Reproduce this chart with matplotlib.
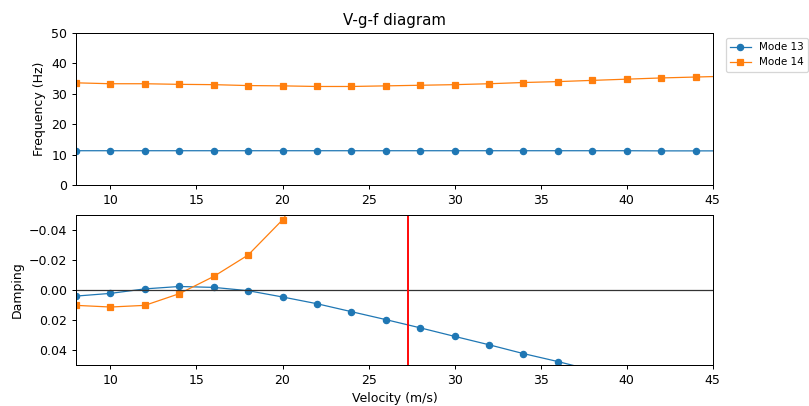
import matplotlib
matplotlib.use("Agg")
import matplotlib.pyplot as plt
import numpy as np

velocity = [8, 10, 12, 14, 16, 18, 20, 22, 24, 26, 28, 30, 32, 34, 36, 38, 40, 42, 44, 46]
freq_mode13 = [11.3, 11.3, 11.3, 11.3, 11.3, 11.3, 11.3, 11.3, 11.3, 11.3,
               11.3, 11.3, 11.3, 11.3, 11.3, 11.3, 11.3, 11.25, 11.25, 11.25]
freq_mode14 = [33.6, 33.3, 33.3, 33.1, 33.0, 32.7, 32.6, 32.4, 32.4, 32.6,
               32.8, 33.0, 33.3, 33.7, 34.0, 34.4, 34.8, 35.2, 35.5, 35.8]
damp_mode13 = [0.004, 0.0022, -0.0008, -0.0024, -0.0018, 0.0004, 0.0046, 0.0091, 0.0144, 0.0197,
               0.0252, 0.0309, 0.0365, 0.0424, 0.0477, 0.0535, 0.059, 0.065, 0.071, 0.077]
damp_mode14 = [0.0102, 0.0113, 0.0102, 0.0024, -0.0091, -0.0234, -0.0469, -0.08, -0.12, -0.16,
               -0.2, -0.24, -0.28, -0.32, -0.36, -0.4, -0.44, -0.48, -0.52, -0.56]
flutter_speed = 27.3
labels = ["Mode 13", "Mode 14"]

DPI = 90
fig = plt.figure(figsize=(809 / DPI, 406 / DPI), dpi=DPI)
ax1 = fig.add_axes([0.094, 0.544, 0.787, 0.375])
ax2 = fig.add_axes([0.094, 0.101, 0.787, 0.369])

ax1.plot(velocity, freq_mode13, marker='o', ms=5, lw=1, color='#1f77b4', label=labels[0])
ax1.plot(velocity, freq_mode14, marker='s', ms=5, lw=1, color='#ff7f0e', label=labels[1])
ax1.set_xlim(8, 45)
ax1.set_ylim(0, 50)
ax1.set_ylabel("Frequency (Hz)")
ax1.set_title("V-g-f diagram")
ax1.legend(loc='upper left', bbox_to_anchor=(1.012, 1.0), fontsize='small')

ax2.plot(velocity, damp_mode13, marker='o', ms=5, lw=1, color='#1f77b4')
ax2.plot(velocity, damp_mode14, marker='s', ms=5, lw=1, color='#ff7f0e')
ax2.axhline(0, color='#333333', lw=1)
ax2.axvline(flutter_speed, color='red', lw=1.5)
ax2.set_xlim(8, 45)
ax2.set_ylim(0.05, -0.05)
ax2.set_yticks([0.04, 0.02, 0.0, -0.02, -0.04])
ax2.set_ylabel("Damping")
ax2.set_xlabel("Velocity (m/s)")

fig.savefig("out.png", dpi=DPI)
